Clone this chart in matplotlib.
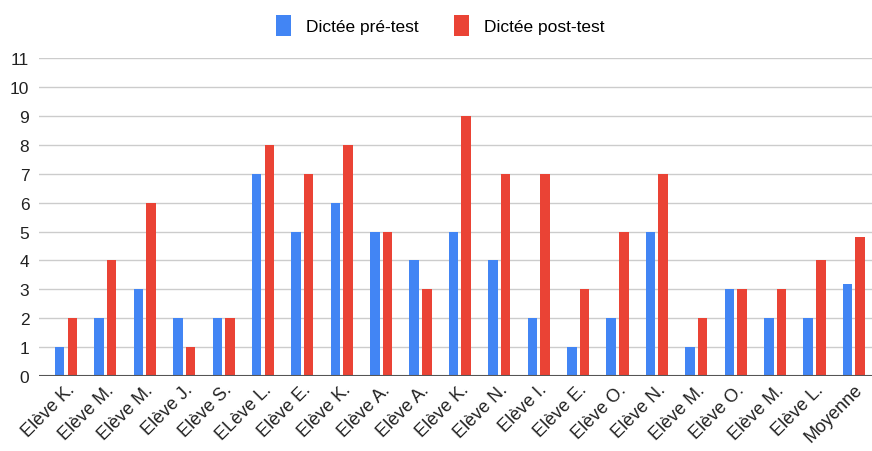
import numpy as np
import matplotlib
matplotlib.use("Agg")
import matplotlib.pyplot as plt
from matplotlib.patches import FancyBboxPatch

plt.rcParams["font.family"] = ["Liberation Sans", "DejaVu Sans"]

# --- data ---
eleves = ["Elève K.", "Elève M.", "Elève M.", "Elève J.", "Elève S.", "ELève L.",
          "Elève E.", "Elève K.", "Elève A.", "Elève A.", "Elève K.", "Elève N.",
          "Elève I.", "Elève E.", "Elève O.", "Elève N.", "Elève M.", "Elève O.",
          "Elève M.", "Elève L.", "Moyenne"]
pre_test = [1, 2, 3, 2, 2, 7, 5, 6, 5, 4, 5, 4, 2, 1, 2, 5, 1, 3, 2, 2, 3.2]
post_test = [2, 4, 6, 1, 2, 8, 7, 8, 5, 3, 9, 7, 7, 3, 5, 7, 2, 3, 3, 4, 4.8]

# --- figure ---
fig = plt.figure(figsize=(8.72, 4.52), dpi=100)
ax = fig.add_axes([0.0447, 0.166, 0.9553, 0.703])

x = np.arange(len(eleves))
w = 0.24
off = 0.16
b1 = ax.bar(x - off, pre_test, w, color="#4285F4", label="Dictée pré-test", zorder=3)
b2 = ax.bar(x + off, post_test, w, color="#EA4335", label="Dictée post-test", zorder=3)

ax.set_xlim(-0.685, len(eleves) - 0.54)
ax.set_ylim(0, 11)
ax.set_yticks(range(0, 12))
ax.yaxis.grid(True, color="#cccccc", linewidth=1, zorder=0)
ax.axhline(0, color="#555555", linewidth=1.5, zorder=4)

for s in ax.spines.values():
    s.set_visible(False)
ax.tick_params(axis="both", length=0, colors="#222222")
ax.tick_params(axis="y", pad=7, labelsize=12.5)
ax.tick_params(axis="x", labelsize=13)
ax.set_xticks(x)
ax.set_xticklabels(eleves, rotation=45, ha="right", rotation_mode="anchor")

fig.legend(loc="upper center", bbox_to_anchor=(0.505, 1.0), ncol=2, frameon=False,
           fontsize=12.5, handlelength=0.85, handleheight=1.5, columnspacing=2.0,
           handletextpad=0.9)

fig.savefig("out.png", dpi=100)
